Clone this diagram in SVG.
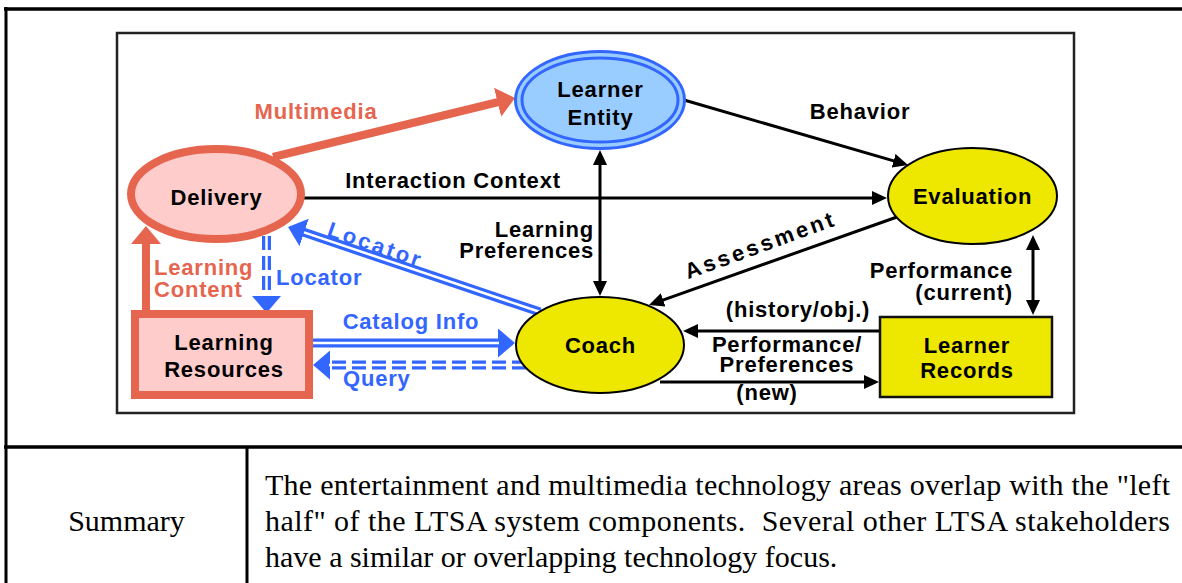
<svg xmlns="http://www.w3.org/2000/svg" width="1182" height="583" viewBox="0 0 1182 583">
<style>
.t{font-family:"Liberation Sans",Arial,Helvetica,sans-serif;font-weight:bold;font-size:22px;letter-spacing:0.8px}
.bk{fill:#000}
.sal{fill:#E5654F}
.blu{fill:#3366FF}
.ln{stroke:#000;stroke-width:3;fill:none}
.bl2{stroke:#3366FF;stroke-width:9;fill:none}
.wh{stroke:#fff;stroke-width:2.5;fill:none}
.dash{stroke-dasharray:14 6}
.body{font-family:"Liberation Serif","Times New Roman",serif;font-size:30px;fill:#000;white-space:pre}
</style>
<defs>
<marker id="ah" viewBox="0 0 15 14" refX="10" refY="7" markerWidth="15" markerHeight="14" markerUnits="userSpaceOnUse" orient="auto-start-reverse"><path d="M0,0 L15,7 L0,14 z" fill="#000"/></marker>
<marker id="bh" viewBox="0 0 17 29" refX="1" refY="14.5" markerWidth="17" markerHeight="29" markerUnits="userSpaceOnUse" orient="auto"><path d="M0,0 L17,14.5 L0,29 z" fill="#3366FF"/></marker>
<marker id="sh" viewBox="0 0 18 30" refX="1" refY="15" markerWidth="18" markerHeight="30" markerUnits="userSpaceOnUse" orient="auto"><path d="M0,0 L18,15 L0,30 z" fill="#E5654F"/></marker>
</defs>
<rect x="0" y="0" width="1182" height="583" fill="#fff"/>
<g id="table" stroke="#000" fill="none">
<line x1="4" y1="9" x2="1182" y2="9" stroke-width="3.5"/>
<line x1="6" y1="7" x2="6" y2="583" stroke-width="3"/>
<line x1="4" y1="447" x2="1182" y2="447" stroke-width="3.5"/>
<line x1="247" y1="447" x2="247" y2="583" stroke-width="3"/>
</g>
<g id="summary">
<text class="body" x="126.5" y="531" text-anchor="middle">Summary</text>
<text class="body" x="265" y="495" textLength="905" lengthAdjust="spacing">The entertainment and multimedia technology areas overlap with the "left</text>
<text class="body" x="265" y="531" textLength="905" lengthAdjust="spacing">half" of the LTSA system components.  Several other LTSA stakeholders</text>
<text class="body" x="265" y="567">have a similar or overlapping technology focus.</text>
</g>
<rect id="frame" x="117" y="33" width="957" height="380" fill="#fff" stroke="#222" stroke-width="2.5"/>
<g id="connectors">
<path d="M273,157 L498.5,102" stroke="#E5654F" stroke-width="8" fill="none" marker-end="url(#sh)"/>
<text class="t sal" x="316" y="119" text-anchor="middle">Multimedia</text>
<path d="M146,312 L146,243" stroke="#E5654F" stroke-width="8" fill="none" marker-end="url(#sh)"/>
<text class="t sal" x="154" y="275">Learning</text>
<text class="t sal" x="154" y="297">Content</text>
<path class="ln" d="M300,198 L882,198" marker-end="url(#ah)"/>
<text class="t bk" x="453" y="188" text-anchor="middle">Interaction Context</text>
<path class="ln" d="M684,100 L903.2,163.6" marker-end="url(#ah)"/>
<text class="t bk" x="860" y="119" text-anchor="middle">Behavior</text>
<path class="ln" d="M600,155 L600,291" marker-start="url(#ah)" marker-end="url(#ah)"/>
<text class="t bk" x="594" y="237" text-anchor="end">Learning</text>
<text class="t bk" x="594" y="258" text-anchor="end">Preferences</text>
<path class="ln" d="M897,217 L653.7,303.3" marker-end="url(#ah)"/>
<text class="t bk" transform="translate(763,252) rotate(-20)" text-anchor="middle" style="letter-spacing:3px">Assessment</text>
<path class="ln" d="M1033,240 L1033,310" marker-start="url(#ah)" marker-end="url(#ah)"/>
<text class="t bk" x="1013" y="278" text-anchor="end">Performance</text>
<text class="t bk" x="1013" y="300" text-anchor="end">(current)</text>
<path class="ln" d="M881,331 L688,331" marker-end="url(#ah)"/>
<text class="t bk" x="798" y="317" text-anchor="middle">(history/obj.)</text>
<path class="ln" d="M660,382 L874,382" marker-end="url(#ah)"/>
<text class="t bk" x="787" y="352" text-anchor="middle">Performance/</text>
<text class="t bk" x="787" y="372" text-anchor="middle">Preferences</text>
<text class="t bk" x="767" y="400" text-anchor="middle">(new)</text>
<path class="bl2" d="M540,312 L303.2,232.1" marker-end="url(#bh)"/>
<path class="wh" d="M540,312 L304,232.4"/>
<text class="t blu" transform="translate(373,252) rotate(19)" text-anchor="middle" style="letter-spacing:2.7px">Locator</text>
<path class="bl2 dash" d="M266.5,236 L266.5,297" marker-end="url(#bh)"/>
<path class="wh" d="M266.5,236 L266.5,296"/>
<text class="t blu" x="276" y="285">Locator</text>
<path class="bl2" d="M310,343 L499,343" marker-end="url(#bh)"/>
<path class="wh" d="M310,343 L499,343"/>
<text class="t blu" x="411" y="329" text-anchor="middle">Catalog Info</text>
<path class="bl2 dash" d="M526,365 L329,365" marker-end="url(#bh)"/>
<path class="wh" d="M526,365 L329,365"/>
<text class="t blu" x="343" y="386">Query</text>
</g>
<g id="delivery">
<ellipse cx="216" cy="194" rx="85" ry="45" fill="#FFCCCC" stroke="#E5654F" stroke-width="8"/>
<text class="t bk" x="216.5" y="205" text-anchor="middle">Delivery</text>
</g>
<g id="learner-entity">
<ellipse cx="600" cy="100" rx="84.5" ry="48.5" fill="#99CCFF" stroke="#3366FF" stroke-width="3"/>
<ellipse cx="600" cy="100" rx="78" ry="42" fill="none" stroke="#3366FF" stroke-width="3"/>
<text class="t bk" x="600.5" y="97" text-anchor="middle">Learner</text>
<text class="t bk" x="600.5" y="125" text-anchor="middle">Entity</text>
</g>
<g id="evaluation">
<ellipse cx="972.5" cy="196" rx="84.5" ry="48" fill="#EEE800" stroke="#000" stroke-width="2"/>
<text class="t bk" x="972.5" y="204" text-anchor="middle">Evaluation</text>
</g>
<g id="coach">
<ellipse cx="600" cy="345" rx="84" ry="48" fill="#EEE800" stroke="#000" stroke-width="2"/>
<text class="t bk" x="600.5" y="353" text-anchor="middle">Coach</text>
</g>
<g id="learner-records">
<rect x="880" y="317" width="172" height="80" fill="#EEE800" stroke="#111" stroke-width="2.5"/>
<text class="t bk" x="967" y="353" text-anchor="middle">Learner</text>
<text class="t bk" x="967" y="378" text-anchor="middle">Records</text>
</g>
<g id="learning-resources">
<rect x="135" y="314" width="174" height="81" fill="#FFCCCC" stroke="#E5654F" stroke-width="8"/>
<text class="t bk" x="224" y="350" text-anchor="middle">Learning</text>
<text class="t bk" x="224" y="377" text-anchor="middle">Resources</text>
</g>
</svg>
